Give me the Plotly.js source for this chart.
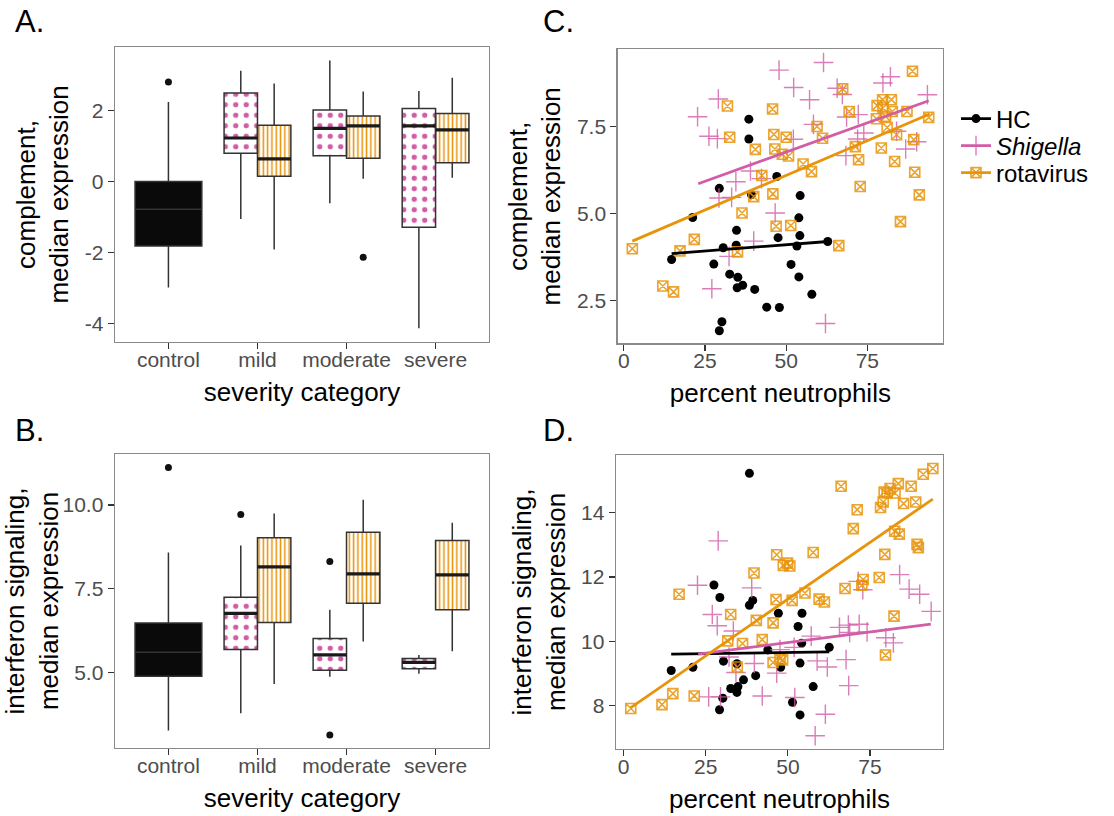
<!DOCTYPE html>
<html><head><meta charset="utf-8">
<script src="https://cdn.plot.ly/plotly-3.0.1.min.js"></script>
<style>html,body{margin:0;padding:0;background:#fff}#chart{width:1114px;height:816px}</style>
</head><body><div id="chart"></div>
<script>
// ---------- categories & tick labels ----------
const categories = ['control', 'mild', 'moderate', 'severe'];
const aTickVals = [-4, -2, 0, 2];
const aTickText = ['-4', '-2', '0', '2'];
const bTickVals = [5, 7.5, 10];
const bTickText = ['5.0', '7.5', '10.0'];
const cTickVals = [2.5, 5, 7.5];
const cTickText = ['2.5', '5.0', '7.5'];
const dTickVals = [8, 10, 12, 14];
const xPctTicks = [0, 25, 50, 75];

// ---------- Panel A: complement (box stats) ----------
// control (HC): q1, median, q3, lower whisker, upper whisker
const aControlStats = [-1.82, -0.78, 0.00, -2.99, 2.25];
const aControlOutliers = [2.81];
// mild, moderate, severe
const aShigQ1 = [0.80, 0.73, -1.29];
const aShigMed = [1.23, 1.50, 1.57];
const aShigQ3 = [2.50, 2.02, 2.06];
const aShigLo = [-1.06, -0.61, -4.14];
const aShigHi = [3.13, 3.42, 2.56];
const aRotaQ1 = [0.15, 0.66, 0.53];
const aRotaMed = [0.64, 1.57, 1.46];
const aRotaQ3 = [1.59, 1.85, 1.92];
const aRotaLo = [-1.92, 0.08, 0.11];
const aRotaHi = [2.77, 2.54, 2.93];
const aRotaOutlierCat = ['moderate'];
const aRotaOutliers = [-2.14];

// ---------- Panel B: interferon signaling (box stats) ----------
const bControlStats = [4.88, 5.60, 6.47, 3.26, 8.58];
const bControlOutliers = [11.12];
const bShigQ1 = [5.68, 5.06, 5.11];
const bShigMed = [6.76, 5.52, 5.30];
const bShigQ3 = [7.24, 6.01, 5.41];
const bShigLo = [3.78, 4.87, 4.96];
const bShigHi = [8.79, 6.87, 5.52];
const bShigOutlierCat = ['mild', 'moderate', 'moderate'];
const bShigOutliers = [9.71, 8.31, 3.13];
const bRotaQ1 = [6.49, 7.06, 6.87];
const bRotaMed = [8.15, 7.94, 7.91];
const bRotaQ3 = [9.02, 9.18, 8.94];
const bRotaLo = [4.65, 5.92, 5.63];
const bRotaHi = [9.74, 10.15, 9.47];

// ---------- Panel C: complement vs percent neutrophils ----------
const cHCx = [38.5,38.5,29.4,39.3,21.2,34.7,30.6,34.6,14.7,27.7,32.6,35.1,36.6,34.9,40.3,44.0,30.2,29.4,47.9,47.1,54.3,53.9,47.5,54.2,53.3,62.8,51.5,53.9,57.9];
const cHCy = [7.71,7.14,5.72,5.54,4.88,4.51,4.01,4.08,3.67,3.54,3.25,3.16,2.93,2.86,2.81,2.30,1.88,1.62,2.29,6.06,5.51,4.87,4.30,4.36,4.06,4.19,3.53,3.17,2.67];
const cShigX = [61.5,47.8,29.1,52.3,22.7,57.2,65.7,67.3,79.8,82.1,93.5,26.2,28.8,52.2,58.4,68.6,72.2,73.9,72.0,68.4,86.8,90.2,84.0,39.0,34.5,42.4,29.3,33.2,46.6,40.0,32.4,27.1,62.1];
const cShigY = [9.34,9.12,8.29,8.62,7.78,8.27,8.60,8.42,8.75,8.93,8.41,7.22,7.15,7.13,7.56,7.77,7.84,7.31,7.14,6.66,6.85,7.06,7.36,6.22,5.91,6.00,5.44,5.46,5.01,4.20,3.76,2.83,1.83];
const cRotaX = [2.6,12.0,15.3,17.3,21.7,31.9,32.6,35.0,36.4,40.0,40.5,42.5,45.8,46.2,46.5,45.9,46.9,48.8,50.0,50.7,51.4,55.2,57.8,59.5,61.2,66.2,67.4,69.4,71.3,72.3,72.8,77.8,78.0,79.7,79.8,80.6,81.1,82.4,82.7,79.3,83.4,84.0,85.2,87.2,88.9,89.3,89.6,91.0,93.9];
const cRotaY = [3.98,2.91,2.74,3.92,4.25,8.09,7.19,3.89,5.01,5.48,6.84,6.09,8.00,7.27,6.85,5.56,4.63,6.70,7.19,6.65,4.65,6.42,6.20,7.50,7.16,4.07,8.58,7.93,6.92,6.54,5.77,7.72,8.10,8.27,8.03,7.79,7.47,8.27,7.93,6.88,6.49,7.26,4.76,7.93,9.09,7.12,6.18,5.53,7.76];
// fitted lines (endpoints)
const cHCFitX = [14.7, 62.9];   const cHCFitY = [3.84, 4.19];
const cShigFitX = [22.9, 93.9]; const cShigFitY = [5.85, 8.24];
const cRotaFitX = [2.6, 94.2];  const cRotaFitY = [4.20, 7.86];

// ---------- Panel D: interferon signaling vs percent neutrophils ----------
const dHCx = [38.3,27.5,29.3,38.3,39.3,14.5,21.1,30.4,34.5,40.2,36.5,32.6,34.8,34.5,30.2,29.2,43.9,47.1,54.3,53.1,54.2,62.6,53.7,47.8,57.7,51.4,53.7];
const dHCy = [15.22,11.75,11.36,11.12,11.27,9.09,9.19,9.38,9.30,8.93,8.80,8.53,8.59,8.41,8.23,7.87,9.73,10.87,10.87,10.46,9.94,9.81,9.32,9.19,8.59,8.10,7.71];
const dShigX = [28.8,22.5,39.0,27.0,28.5,33.4,32.1,39.8,34.2,46.6,25.9,29.5,42.2,52.1,61.4,58.3,68.5,67.7,62.0,58.9,51.9,47.6,57.1,65.7,68.4,71.7,74.1,68.8,79.8,82.1,71.4,72.8,84.0,86.9,90.1,93.6];
const dShigY = [13.12,11.74,11.66,10.83,10.48,10.32,9.51,9.31,9.03,9.01,8.27,8.27,8.30,8.25,7.73,7.06,8.62,9.43,9.20,9.39,9.81,9.74,10.16,10.43,10.50,10.53,10.29,10.27,10.11,9.95,11.86,11.60,12.07,11.62,11.46,10.93];
const dRotaX = [2.2,11.7,15.0,21.5,16.9,32.6,31.7,36.2,34.6,40.4,39.7,42.2,45.5,46.4,46.6,45.5,47.6,48.4,48.6,49.9,50.6,51.3,55.2,57.7,59.5,61.1,66.2,67.4,69.9,71.1,72.9,72.5,77.8,79.5,79.7,82.3,78.2,79.0,79.3,81.1,80.2,82.6,83.6,85.2,87.5,88.9,91.2,94.1,82.5,83.9,89.3,89.7];
const dRotaY = [7.91,8.03,8.37,8.30,11.46,10.83,10.01,9.93,9.20,10.65,12.12,10.05,10.57,11.30,12.69,9.34,9.46,9.42,12.36,12.43,12.34,11.27,11.50,12.76,11.31,11.22,14.82,11.64,13.50,14.09,11.92,11.74,11.98,12.70,9.57,10.78,14.16,14.33,14.64,14.75,14.61,14.61,14.90,14.28,14.82,14.33,15.19,15.37,13.42,13.33,13.01,12.91];
const dHCFitX = [14.5, 62.6];   const dHCFitY = [9.60, 9.67];
const dShigFitX = [22.7, 93.5]; const dShigFitY = [9.60, 10.53];
const dRotaFitX = [2.1, 94.1];  const dRotaFitY = [7.93, 14.42];

// ---------- styling ----------
const FONT = 'Liberation Sans, Arial, Helvetica, sans-serif';
const PINK = '#D15DA6';
const ORANGE = '#E8940A';
const BLACK = '#000000';
const DODGE = 0.1875, SUBW = 0.375, CTRLW = 0.75;

const catPos = c => categories.indexOf(c) + 1;
const sickPos = categories.slice(1).map(catPos);
const shigPos = sickPos.map(p => p - DODGE);
const rotaPos = sickPos.map(p => p + DODGE);

const traces = [];

function addBoxes(xa, ya, pos, q1, med, q3, lo, hi, width, kind) {
  let marker;
  if (kind === 'control') {
    marker = {color: '#0a0a0a', line: {width: 0}};
  } else if (kind === 'shig') {
    marker = {color: '#ffffff', line: {width: 0},
      pattern: {shape: '.', fgcolor: PINK, bgcolor: '#ffffff', size: 10.5, solidity: 0.2, fillmode: 'replace'}};
  } else {
    marker = {color: '#ffffff', line: {width: 0},
      pattern: {shape: '|', fgcolor: ORANGE, bgcolor: '#ffffff', size: 4.3, solidity: 0.35, fillmode: 'replace'}};
  }
  traces.push({type: 'bar', xaxis: xa, yaxis: ya, x: pos, base: q1,
    y: q3.map((v, i) => v - q1[i]), width: pos.map(() => width),
    marker: marker, showlegend: false, hoverinfo: 'skip'});
  traces.push({type: 'box', xaxis: xa, yaxis: ya, x: pos, q1: q1, median: med, q3: q3,
    lowerfence: lo, upperfence: hi, width: width, whiskerwidth: 0,
    fillcolor: 'rgba(0,0,0,0)', line: {color: '#333333', width: 1.5},
    boxpoints: false, showlegend: false, hoverinfo: 'skip'});
  if (kind !== 'control') {
    traces.push({type: 'scatter', mode: 'lines', xaxis: xa, yaxis: ya,
      x: pos.flatMap(p => [p - width / 2, p + width / 2, null]),
      y: med.flatMap(m => [m, m, null]),
      line: {color: '#1a1a1a', width: 3.2}, showlegend: false, hoverinfo: 'skip'});
  }
}
function addOutliers(xa, ya, xs, ys) {
  traces.push({type: 'scatter', mode: 'markers', xaxis: xa, yaxis: ya, x: xs, y: ys,
    marker: {color: '#111', size: 7}, showlegend: false, hoverinfo: 'skip'});
}

function ctrlArrays(s) { return [[s[0]], [s[1]], [s[2]], [s[3]], [s[4]]]; }

// Panel A
addBoxes('x', 'y', [catPos('control')], ...ctrlArrays(aControlStats), CTRLW, 'control');
addBoxes('x', 'y', shigPos, aShigQ1, aShigMed, aShigQ3, aShigLo, aShigHi, SUBW, 'shig');
addBoxes('x', 'y', rotaPos, aRotaQ1, aRotaMed, aRotaQ3, aRotaLo, aRotaHi, SUBW, 'rota');
addOutliers('x', 'y', aControlOutliers.map(() => catPos('control')), aControlOutliers);
addOutliers('x', 'y', aRotaOutlierCat.map(c => catPos(c) + DODGE), aRotaOutliers);

// Panel B
addBoxes('x2', 'y2', [catPos('control')], ...ctrlArrays(bControlStats), CTRLW, 'control');
addBoxes('x2', 'y2', shigPos, bShigQ1, bShigMed, bShigQ3, bShigLo, bShigHi, SUBW, 'shig');
addBoxes('x2', 'y2', rotaPos, bRotaQ1, bRotaMed, bRotaQ3, bRotaLo, bRotaHi, SUBW, 'rota');
addOutliers('x2', 'y2', bControlOutliers.map(() => catPos('control')), bControlOutliers);
addOutliers('x2', 'y2', bShigOutlierCat.map(c => catPos(c) - DODGE), bShigOutliers);

// scatter panels
const mkHC = {symbol: 'circle', size: 9, color: BLACK};
const mkShig = {symbol: 'cross-thin-open', size: 14, color: PINK, opacity: 0.8, line: {color: PINK, width: 1.4}};
const mkRota = {symbol: 'square-x-open', size: 10, color: ORANGE, opacity: 0.85, line: {color: ORANGE, width: 1.6}};

function addScatterPanel(xa, ya, hx, hy, sx, sy, rx, ry, fits) {
  traces.push({type: 'scatter', mode: 'markers', xaxis: xa, yaxis: ya, x: hx, y: hy, marker: mkHC, showlegend: false, hoverinfo: 'skip'});
  traces.push({type: 'scatter', mode: 'markers', xaxis: xa, yaxis: ya, x: sx, y: sy, marker: mkShig, showlegend: false, hoverinfo: 'skip'});
  traces.push({type: 'scatter', mode: 'markers', xaxis: xa, yaxis: ya, x: rx, y: ry, marker: mkRota, showlegend: false, hoverinfo: 'skip'});
  const cols = [BLACK, PINK, ORANGE];
  fits.forEach((f, i) => traces.push({type: 'scatter', mode: 'lines', xaxis: xa, yaxis: ya,
    x: f[0], y: f[1], line: {color: cols[i], width: 2.8}, showlegend: false, hoverinfo: 'skip'}));
}
addScatterPanel('x3', 'y3', cHCx, cHCy, cShigX, cShigY, cRotaX, cRotaY,
  [[cHCFitX, cHCFitY], [cShigFitX, cShigFitY], [cRotaFitX, cRotaFitY]]);
addScatterPanel('x4', 'y4', dHCx, dHCy, dShigX, dShigY, dRotaX, dRotaY,
  [[dHCFitX, dHCFitY], [dShigFitX, dShigFitY], [dRotaFitX, dRotaFitY]]);

// legend entries (one legend box per entry for exact row spacing)
const legendNames = ['HC', '<i>Shigella</i>', 'rotavirus'];
const legendMarkers = [mkHC, mkShig, mkRota];
const legendColors = [BLACK, PINK, ORANGE];
const legendIds = ['legend', 'legend2', 'legend3'];
legendNames.forEach((n, i) => traces.push({type: 'scatter', mode: 'lines+markers', xaxis: 'x3', yaxis: 'y3',
  x: [null], y: [null], name: n, legend: legendIds[i], marker: legendMarkers[i],
  line: {color: legendColors[i], width: 2.8}, hoverinfo: 'skip'}));

// ---------- layout ----------
const W = 1114, H = 816;
const fx = px => px / W, fy = py => 1 - py / H;
const tickFont = {family: FONT, size: 21, color: '#4d4d4d'};
const titleFont = {family: FONT, size: 26, color: '#000'};
const axBase = {ticks: 'outside', ticklen: 6, tickwidth: 1.2, tickcolor: '#333',
  showline: true, mirror: true, linecolor: '#8a8a8a', linewidth: 1.4,
  showgrid: false, zeroline: false, tickfont: tickFont, fixedrange: true};
const xBase = Object.assign({}, axBase, {ticklabelstandoff: -8});
const XSTAND = 13;

const legendBase = {x: fx(956), xanchor: 'left', yanchor: 'middle', bgcolor: 'rgba(0,0,0,0)',
  font: {family: FONT, size: 24, color: '#000'}, itemclick: false};

const layout = {
  width: W, height: H, margin: {l: 0, r: 0, t: 0, b: 0},
  paper_bgcolor: '#fff', plot_bgcolor: '#fff',
  barmode: 'overlay', boxmode: 'overlay', bargap: 0,
  font: {family: FONT},
  xaxis: Object.assign({}, xBase, {domain: [fx(115), fx(489)], anchor: 'y', range: [0.4, 4.6],
    tickvals: [1, 2, 3, 4], ticktext: categories, title: {text: 'severity category', font: titleFont, standoff: XSTAND}}),
  yaxis: Object.assign({}, axBase, {domain: [fy(342), fy(47)], anchor: 'x', range: [-4.53, 3.80],
    tickvals: aTickVals, ticktext: aTickText, title: {text: 'complement,<br>median expression', font: titleFont, standoff: 8}}),
  xaxis2: Object.assign({}, xBase, {domain: [fx(115), fx(489)], anchor: 'y2', range: [0.4, 4.6],
    tickvals: [1, 2, 3, 4], ticktext: categories, title: {text: 'severity category', font: titleFont, standoff: XSTAND}}),
  yaxis2: Object.assign({}, axBase, {domain: [fy(748), fy(454)], anchor: 'x2', range: [2.74, 11.52],
    tickvals: bTickVals, ticktext: bTickText, title: {text: 'interferon signaling,<br>median expression', font: titleFont, standoff: 8}}),
  xaxis3: Object.assign({}, xBase, {domain: [fx(617.7), fx(943)], anchor: 'y3', range: [-1.9, 98.3],
    tickvals: xPctTicks, title: {text: 'percent neutrophils', font: titleFont, standoff: XSTAND}}),
  yaxis3: Object.assign({}, axBase, {domain: [fy(343.3), fy(49.3)], anchor: 'x3', range: [1.26, 9.72],
    tickvals: cTickVals, ticktext: cTickText, title: {text: 'complement,<br>median expression', font: titleFont, standoff: 8}}),
  xaxis4: Object.assign({}, xBase, {domain: [fx(616), fx(943)], anchor: 'y4', range: [-2.3, 97.2],
    tickvals: xPctTicks, title: {text: 'percent neutrophils', font: titleFont, standoff: XSTAND}}),
  yaxis4: Object.assign({}, axBase, {domain: [fy(749), fy(455)], anchor: 'x4', range: [6.65, 15.79],
    tickvals: dTickVals, title: {text: 'interferon signaling,<br>median expression', font: titleFont, standoff: 8}}),
  showlegend: true,
  legend: Object.assign({}, legendBase, {y: fy(119)}),
  legend2: Object.assign({}, legendBase, {y: fy(146)}),
  legend3: Object.assign({}, legendBase, {y: fy(173)}),
  annotations: [
    {text: 'A.', x: fx(13), y: fy(21), xanchor: 'left', yanchor: 'middle'},
    {text: 'B.', x: fx(13), y: fy(430), xanchor: 'left', yanchor: 'middle'},
    {text: 'C.', x: fx(541), y: fy(21), xanchor: 'left', yanchor: 'middle'},
    {text: 'D.', x: fx(541), y: fy(430), xanchor: 'left', yanchor: 'middle'}
  ].map(a => Object.assign(a, {xref: 'paper', yref: 'paper', showarrow: false, font: {family: FONT, size: 31, color: '#000'}}))
};

Plotly.newPlot('chart', traces, layout, {displayModeBar: false, staticPlot: true});
</script>
</body></html>
